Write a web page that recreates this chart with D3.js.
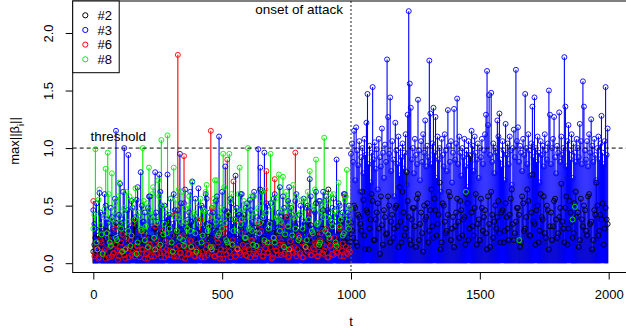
<!DOCTYPE html>
<html>
<head>
<meta charset="utf-8">
<script src="https://cdn.jsdelivr.net/npm/d3@7"></script>
<style>
  body { margin: 0; background: #fff; }
  svg { display: block; font-family: "Liberation Sans", Arial, sans-serif; }
</style>
</head>
<body>
<svg id="chart" width="626" height="330"></svg>
<script>
// values are stored in hundredths (0.01 units)
const tPre = d3.range(0, 1000, 8);       // pre-attack samples
const tPreB = d3.range(4, 1000, 8);      // in-between pre-attack samples
const tPostBlue = d3.range(1000, 2000, 4);
const tPostBlack = d3.range(1000, 2000, 8);
const tPostBlackB = d3.range(1004, 2000, 8);

const s2Pre = [
  10, 22, 8, 15, 30, 12, 5, 18, 26, 9, 14, 35, 7, 20, 11, 28, 6, 16, 24, 10, 32, 13, 8, 19, 27,
  12, 6, 22, 15, 9, 30, 18, 11, 25, 7, 14, 36, 10, 20, 8, 28, 13, 17, 5, 24, 11, 32, 16, 9, 21,
  14, 26, 8, 18, 12, 34, 10, 22, 6, 15, 28, 11, 19, 9, 30, 13, 24, 7, 16, 38, 12, 20, 10, 42, 17,
  9, 25, 14, 31, 11, 18, 64, 22, 8, 28, 15, 35, 12, 20, 26, 10, 40, 16, 24, 9, 30, 14, 19, 33, 11,
  22, 15, 28, 10, 36, 18, 12, 26, 52, 20, 14, 30, 9, 24, 64, 16, 34, 11, 20, 28, 13, 38, 18, 26, 15
];
const s2PreB = [
  16, 8, 24, 12, 20, 6, 28, 14, 10, 22, 18, 8, 32, 15, 11, 25, 9, 19, 13, 38, 7, 21, 16, 10, 28,
  14, 22, 9, 18, 30, 12, 7, 26, 16, 20, 10, 34, 13, 8, 24, 18, 11, 29, 15, 6, 22, 12, 36, 17, 9,
  20, 11, 27, 14, 8, 23, 17, 32, 10, 19, 13, 26, 7, 21, 15, 44, 12, 18, 9, 25, 14, 30, 11, 20, 8,
  24, 13, 19, 10, 28, 16, 8, 35, 14, 22, 11, 18, 26, 9, 31, 15, 20, 12, 40, 17, 10, 23, 14, 28, 19,
  12, 27, 16, 9, 21, 33, 13, 18, 10, 25, 15, 46, 11, 20, 8, 29, 17, 14, 24, 10, 36, 19, 13, 22, 30
];
const s2Post = [
  35, 22, 48, 15, 40, 28, 55, 12, 44, 30, 60, 20, 38, 52, 8, 33, 46, 25, 58, 18, 42, 30, 50, 14, 36,
  62, 24, 79, 40, 16, 48, 32, 56, 20, 44, 10, 38, 52, 28, 64, 22, 46, 34, 70, 18, 50, 26, 42, 58, 30,
  14, 44, 36, 54, 24, 40, 60, 20, 93, 32, 48, 16, 38, 56, 28, 46, 12, 34, 62, 22, 50, 40, 26, 44, 18,
  52, 30, 42, 64, 20, 36, 48, 14, 58, 28, 40, 54, 24, 77, 34, 46, 18, 60, 38, 26, 50, 12, 44, 32, 56,
  22, 40, 69, 30, 48, 16, 54, 36, 26, 62, 44, 20, 38, 50, 28, 58, 34, 12, 46, 70, 24, 42, 52, 30, 38
];
const s2PostB = [
  28, 50, 18, 42, 34, 62, 24, 46, 12, 38, 54, 20, 44, 30, 58, 16, 40, 26, 50, 36, 22, 48, 32, 66, 18,
  44, 30, 54, 20, 38, 48, 14, 60, 34, 26, 50, 40, 18, 46, 32, 56, 24, 42, 12, 52, 36, 28, 62, 20, 40,
  32, 56, 22, 46, 38, 16, 52, 30, 44, 24, 60, 34, 20, 48, 40, 26, 58, 14, 42, 36, 30, 54, 18, 46, 28,
  40, 20, 56, 34, 26, 48, 42, 18, 52, 30, 64, 24, 44, 36, 16, 50, 28, 40, 58, 22, 46, 32, 20, 54, 38,
  26, 48, 36, 18, 58, 30, 44, 22, 52, 40, 14, 56, 32, 46, 24, 60, 36, 20, 42, 50, 28, 38, 16, 48, 34
];
const s3Pre = [
  46, 30, 18, 61, 42, 25, 50, 35, 12, 40, 28, 115, 22, 69, 38, 100, 15, 94, 32, 48, 20, 55, 26, 79, 36,
  44, 18, 58, 30, 40, 79, 24, 77, 50, 35, 14, 77, 42, 28, 60, 20, 46, 95, 32, 52, 18, 38, 62, 71, 25,
  40, 65, 22, 48, 30, 56, 15, 36, 44, 26, 58, 110, 34, 20, 84, 45, 28, 52, 38, 76, 18, 42, 60, 30, 48,
  24, 55, 36, 62, 20, 99, 83, 40, 96, 52, 28, 52, 35, 60, 22, 44, 30, 58, 38, 26, 66, 48, 20, 54, 34,
  42, 28, 56, 36, 50, 73, 24, 46, 62, 32, 54, 40, 26, 58, 44, 30, 48, 36, 90, 52, 28, 44, 60, 38, 50
];
const s3PreB = [
  34, 52, 20, 44, 28, 60, 38, 16, 48, 30, 56, 24, 42, 35, 62, 18, 46, 30, 54, 22, 40, 66, 28, 50, 36,
  26, 48, 58, 32, 20, 44, 36, 62, 28, 50, 40, 24, 56, 34, 46, 18, 38, 52, 30, 64, 22, 44, 36, 28, 56,
  38, 24, 50, 32, 60, 20, 44, 36, 28, 54, 40, 30, 62, 46, 22, 38, 56, 34, 26, 48, 42, 60, 24, 36, 52,
  30, 46, 58, 22, 40, 34, 62, 28, 44, 50, 36, 24, 56, 40, 30, 66, 20, 48, 38, 54, 28, 42, 34, 60, 26,
  50, 36, 24, 48, 40, 58, 30, 44, 22, 54, 36, 62, 28, 46, 40, 32, 56, 24, 42, 50, 34, 60, 26, 44, 38
];
const s3Post = [
  95, 104, 88, 115, 72, 118, 98, 85, 106, 62, 92, 100, 78, 108, 94, 122, 147, 86, 102, 70, 96, 153, 90, 105, 82,
  99, 64, 108, 92, 84, 117, 96, 74, 103, 88, 177, 127, 95, 144, 80, 106, 90, 58, 122, 98, 86, 110, 76, 100, 92,
  104, 82, 96, 112, 68, 129, 219, 156, 135, 90, 100, 78, 108, 94, 86, 142, 98, 72, 106, 88, 112, 96, 124, 84, 102,
  92, 176, 130, 86, 104, 135, 96, 127, 74, 110, 90, 100, 62, 108, 94, 84, 112, 98, 80, 133, 102, 88, 106, 70, 96,
  134, 90, 104, 143, 86, 110, 96, 76, 100, 92, 108, 84, 98, 66, 106, 94, 88, 115, 102, 80, 110, 96, 90, 104, 74,
  100, 92, 108, 86, 98, 112, 129, 167, 120, 146, 94, 148, 88, 104, 78, 100, 96, 124, 110, 130, 90, 84, 106, 98, 72,
  121, 94, 104, 86, 110, 98, 68, 100, 116, 92, 168, 106, 118, 88, 102, 96, 80, 108, 94, 147, 100, 86, 112, 98, 76,
  104, 136, 92, 144, 100, 88, 110, 96, 70, 106, 94, 102, 84, 112, 98, 90, 104, 150, 129, 86, 100, 108, 127, 92, 78,
  102, 96, 131, 88, 110, 94, 100, 179, 136, 84, 106, 120, 98, 90, 112, 74, 104, 96, 88, 108, 100, 92, 121, 106, 86,
  158, 136, 98, 90, 106, 84, 112, 96, 125, 102, 88, 108, 94, 72, 100, 110, 90, 104, 128, 96, 86, 106, 153, 94, 117
];
const s6Pre = [
  54, 8, 12, 5, 18, 10, 4, 22, 14, 6, 9, 16, 3, 11, 25, 7, 13, 5, 20, 10, 6, 15, 8, 28, 12,
  4, 9, 17, 6, 12, 32, 8, 14, 5, 10, 19, 7, 11, 24, 6, 13, 181, 9, 5, 93, 15, 8, 20, 11, 6,
  12, 7, 38, 10, 5, 16, 9, 115, 14, 6, 22, 8, 12, 4, 30, 90, 10, 17, 71, 6, 13, 9, 26, 11, 7,
  15, 5, 20, 10, 8, 34, 12, 6, 18, 80, 9, 14, 5, 73, 11, 22, 7, 16, 10, 40, 6, 13, 9, 96, 12,
  8, 18, 5, 14, 10, 24, 7, 12, 16, 6, 20, 9, 11, 30, 5, 15, 8, 22, 10, 13, 6, 17, 58, 9, 12
];
const s6PreB = [
  6, 14, 4, 20, 9, 12, 26, 5, 16, 8, 30, 11, 6, 18, 10, 4, 22, 13, 7, 35, 9, 15, 5, 12, 24,
  8, 4, 16, 11, 6, 20, 14, 9, 28, 5, 12, 18, 7, 10, 42, 6, 15, 9, 24, 4, 13, 8, 19, 11, 6,
  17, 9, 5, 22, 12, 7, 14, 48, 6, 10, 18, 4, 26, 11, 8, 15, 5, 20, 9, 13, 36, 7, 16, 10, 6,
  12, 20, 8, 5, 15, 10, 28, 6, 13, 9, 18, 4, 22, 11, 7, 16, 32, 8, 12, 5, 19, 10, 14, 6, 24,
  9, 5, 15, 11, 44, 7, 13, 18, 6, 10, 26, 8, 14, 5, 20, 12, 7, 16, 9, 30, 11, 6, 14, 8, 10
];
const s8Pre = [
  30, 99, 12, 64, 25, 40, 82, 96, 18, 78, 45, 22, 58, 35, 10, 48, 62, 28, 15, 55, 38, 8, 44, 30, 100,
  20, 52, 83, 41, 66, 12, 35, 58, 107, 25, 47, 111, 30, 18, 83, 55, 40, 22, 62, 15, 36, 50, 28, 70, 44,
  10, 38, 56, 24, 45, 68, 32, 14, 50, 72, 72, 26, 42, 95, 35, 18, 95, 60, 28, 46, 12, 83, 38, 54, 22,
  100, 40, 28, 58, 15, 48, 35, 62, 20, 44, 30, 95, 52, 18, 40, 77, 36, 75, 25, 56, 12, 46, 68, 30, 42,
  22, 55, 38, 14, 62, 80, 28, 48, 90, 35, 18, 52, 109, 40, 25, 60, 32, 45, 15, 70, 38, 24, 55, 81, 30
];
const s8PreB = [
  42, 18, 55, 33, 8, 47, 26, 60, 15, 38, 52, 20, 70, 30, 45, 12, 36, 58, 24, 48, 65, 18, 40, 28, 54,
  32, 14, 46, 60, 22, 38, 72, 16, 50, 34, 26, 44, 56, 10, 40, 28, 64, 36, 20, 48, 30, 58, 14, 42, 26,
  52, 34, 18, 46, 62, 28, 40, 12, 56, 36, 24, 48, 30, 66, 20, 42, 54, 16, 38, 28, 60, 34, 46, 22, 50,
  30, 58, 16, 44, 36, 26, 52, 40, 64, 18, 34, 48, 22, 56, 38, 28, 46, 14, 62, 32, 50, 24, 40, 58, 20,
  44, 30, 56, 20, 38, 50, 26, 64, 34, 16, 46, 40, 28, 54, 22, 36, 60, 18, 48, 32, 42, 26, 58, 36, 48
];
const s8PostT = [1446, 1653, 1860, 1869];
const s8PostV = [62, 20, 38, 49];

const legendLabels = ["#2", "#3", "#6", "#8"];
const colors = ["#000000", "#0000ff", "#ff0000", "#00ee00"];
const stemOrder = [3, 2, 0, 1];   // green, red, black, then blue on top
const xTicks = [0, 500, 1000, 1500, 2000];
const yTicks = [0, 0.5, 1, 1.5, 2];
const threshold = 1.0;
const attackT = 1000;

function toPoints(ts, vs) {
  return ts.map((t, i) => ({ t, v: vs[i] / 100 })).filter((d) => !isNaN(d.v));
}

const series = [
  [].concat(toPoints(tPre, s2Pre), toPoints(tPreB, s2PreB), toPoints(tPostBlack, s2Post), toPoints(tPostBlackB, s2PostB)),
  [].concat(toPoints(tPre, s3Pre), toPoints(tPreB, s3PreB), toPoints(tPostBlue, s3Post)),
  [].concat(toPoints(tPre, s6Pre), toPoints(tPreB, s6PreB)),
  [].concat(toPoints(tPre, s8Pre), toPoints(tPreB, s8PreB), toPoints(s8PostT, s8PostV))
];

const svg = d3.select("#chart");
const plotLeft = 72.7, plotRight = 629.3, plotTop = 1, plotBottom = 272.5;

const x = d3.scaleLinear().domain([-80, 2080]).range([plotLeft, plotRight]);
const y = d3.scaleLinear().domain([-0.088, 2.278]).range([273.3, 1]);

// stems first, then all circles
const stems = svg.append("g").attr("class", "stems");
stemOrder.forEach((k) => {
  stems.append("g")
    .selectAll("line")
    .data(series[k])
    .enter()
    .append("line")
    .attr("x1", (d) => x(d.t))
    .attr("x2", (d) => x(d.t))
    .attr("y1", y(0))
    .attr("y2", (d) => y(d.v))
    .attr("stroke", colors[k])
    .attr("stroke-width", 1.1);
});

const dots = svg.append("g").attr("class", "dots");
series.forEach((pts, k) => {
  dots.append("g")
    .selectAll("circle")
    .data(pts)
    .enter()
    .append("circle")
    .attr("cx", (d) => x(d.t))
    .attr("cy", (d) => y(d.v))
    .attr("r", 2.5)
    .attr("fill", "none")
    .attr("stroke", colors[k])
    .attr("stroke-width", 0.9);
});

// reference lines
svg.append("line")
  .attr("x1", plotLeft).attr("x2", plotRight)
  .attr("y1", y(threshold)).attr("y2", y(threshold))
  .attr("stroke", "#000").attr("stroke-width", 1)
  .attr("stroke-dasharray", "4,3");

svg.append("line")
  .attr("x1", x(attackT)).attr("x2", x(attackT))
  .attr("y1", plotTop).attr("y2", plotBottom)
  .attr("stroke", "#555").attr("stroke-width", 1.3)
  .attr("stroke-dasharray", "2,2");

svg.append("text")
  .attr("x", 90.5).attr("y", 140.5)
  .style("font-size", "13.5px")
  .text("threshold");

svg.append("text")
  .attr("x", 343).attr("y", 14)
  .attr("text-anchor", "end")
  .style("font-size", "13.5px")
  .text("onset of attack");

// box
svg.append("rect")
  .attr("x", plotLeft).attr("y", plotTop)
  .attr("width", plotRight - plotLeft).attr("height", plotBottom - plotTop)
  .attr("fill", "none").attr("stroke", "#000").attr("stroke-width", 1);

// axes
const xAxis = svg.append("g")
  .attr("transform", `translate(0,${plotBottom})`)
  .call(d3.axisBottom(x).tickValues(xTicks).tickSize(7).tickPadding(10).tickFormat(d3.format("d")));
xAxis.select(".domain").remove();
xAxis.selectAll("text").style("font-size", "13px").attr("fill", "#000");

const yAxis = svg.append("g")
  .attr("transform", `translate(${plotLeft},0)`)
  .call(d3.axisLeft(y).tickValues(yTicks).tickSize(7).tickFormat(d3.format(".1f")));
yAxis.select(".domain").remove();
yAxis.selectAll("text")
  .attr("x", null).attr("dy", null)
  .attr("text-anchor", "middle")
  .attr("transform", "translate(-20,0) rotate(-90)")
  .style("font-size", "13px")
  .attr("fill", "#000");

svg.append("text")
  .attr("x", 351).attr("y", 326)
  .attr("text-anchor", "middle")
  .style("font-size", "13px")
  .text("t");

const yTitle = svg.append("text")
  .attr("transform", "translate(19,141) rotate(-90)")
  .attr("text-anchor", "middle")
  .style("font-size", "13px");
yTitle.append("tspan").text("max||β");
yTitle.append("tspan").attr("baseline-shift", "sub").style("font-size", "9px").text("i");
yTitle.append("tspan").text("||");

// legend
const legend = svg.append("g").attr("class", "legend");
legend.append("rect")
  .attr("x", plotLeft).attr("y", plotTop)
  .attr("width", 46.5).attr("height", 71.7)
  .attr("fill", "#fff").attr("stroke", "#000").attr("stroke-width", 1);
const rowY = d3.scaleLinear().domain([0, 3]).range([15.3, 59.3]);
legendLabels.forEach((lab, k) => {
  legend.append("circle")
    .attr("cx", 85.3).attr("cy", rowY(k)).attr("r", 2.6)
    .attr("fill", "none").attr("stroke", colors[k]).attr("stroke-width", 1);
  legend.append("text")
    .attr("x", 97.5).attr("y", rowY(k) + 4.7)
    .style("font-size", "13px")
    .text(lab);
});
</script>
</body>
</html>
